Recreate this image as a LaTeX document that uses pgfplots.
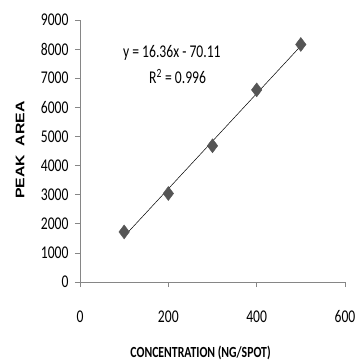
\documentclass[border=0pt]{standalone}
\usepackage{pgfplots}
\pgfplotsset{compat=1.18}
\usetikzlibrary{calc}
\usepackage{fontspec}
\setmainfont{Carlito}
\newfontfamily\condfont[FakeStretch=0.76]{Carlito}
\newfontfamily\ylabfont[FakeStretch=1.27]{Liberation Sans}
\definecolor{axgray}{RGB}{134,134,134}
\definecolor{mkgray}{RGB}{85,85,85}
\begin{document}
\begin{tikzpicture}[x=1bp,y=1bp]
\begin{axis}[
  at={(0,0)}, anchor=origin,
  scale only axis,
  width=265bp, height=262bp,
  xmin=0, xmax=600, ymin=0, ymax=9000,
  xtick={0,200,400,600}, ytick={0,1000,...,9000},
  axis x line*=bottom, axis y line*=left,
  axis line style={axgray, line width=0.6pt},
  tick style={axgray, line width=0.6pt},
  tick align=outside,
  major tick length=5bp,
  /pgf/number format/assume math mode=true,
  /pgf/number format/set thousands separator={},
  tick label style={font=\condfont\fontsize{18}{19}\selectfont, text=black},
  xticklabel style={yshift=-20bp},
  yticklabel style={xshift=-3bp},
  xlabel={\condfont\bfseries CONCENTRATION (NG/SPOT)},
  xlabel style={font=\fontsize{15.5}{17}\selectfont, at={($(axis description cs:0.455,0)+(0,-71bp)$)}, anchor=center},
  ylabel={\ylabfont\bfseries PEAK\ \ AREA},
  ylabel style={font=\fontsize{12.5}{14}\selectfont, at={($(axis description cs:0,0.504)+(-60bp,0)$)}, anchor=center},
  clip=false,
]
\addplot[only marks, mark=diamond*, mark size=7bp, mark options={fill=mkgray, draw=mkgray}]
  coordinates {(100,1720) (200,3040) (300,4680) (400,6600) (500,8160)};
\addplot[black, line width=0.5pt] coordinates {(100,1566) (500,8110)};
\node[font=\condfont\fontsize{18}{19}\selectfont] at (axis cs:208,7866) {y = 16.36x - 70.11};
\node[font=\condfont\fontsize{18}{19}\selectfont] at (axis cs:221,7070) {R\textsuperscript{2} = 0.996};
\end{axis}
\pgfresetboundingbox
\path[use as bounding box] (-80bp,-81bp) rectangle (277bp,282bp);
\end{tikzpicture}
\end{document}
